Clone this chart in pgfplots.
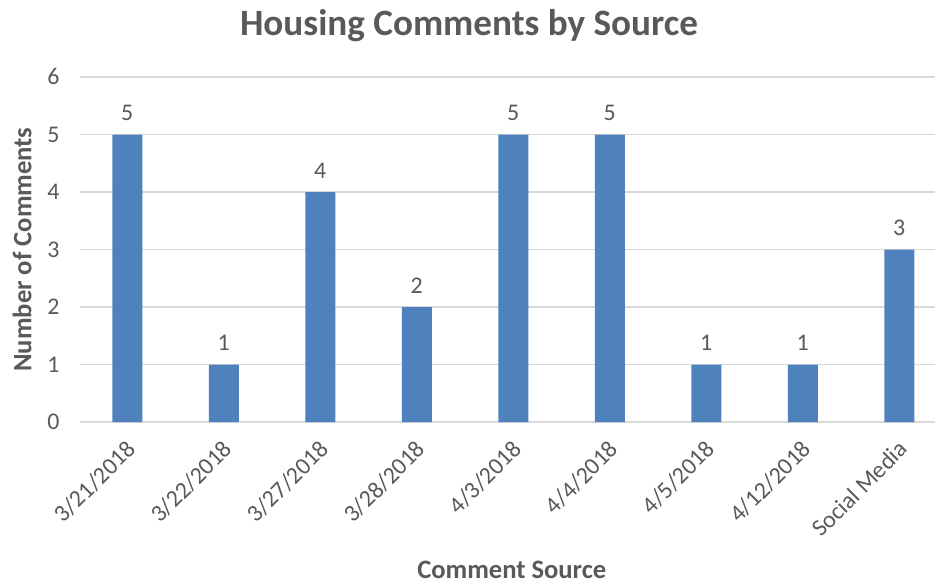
\documentclass[border=0pt]{standalone}
\usepackage{pgfplots}
\pgfplotsset{compat=1.18}
\usepackage{fontspec}
\setmainfont{Carlito}
\definecolor{barblue}{HTML}{4F81BD}
\definecolor{txtgray}{HTML}{595959}
\definecolor{gridgray}{HTML}{D9D9D9}
\begin{document}
\begin{tikzpicture}
\useasboundingbox (-80bp,-162bp) rectangle (858bp,422bp);
\begin{axis}[
  scale only axis,
  width=855bp, height=345bp,
  at={(0,0)}, anchor=south west,
  ybar, bar width=30bp,
  xmin=-0.49, xmax=8.37,
  ymin=0, ymax=6,
  ytick={0,1,...,6},
  xtick=data,
  xticklabels={3/21/2018,3/22/2018,3/27/2018,3/28/2018,4/3/2018,4/4/2018,4/5/2018,4/12/2018,Social Media},
  x tick label style={rotate=45, anchor=north east, font=\fontsize{24}{28}\selectfont, text=txtgray, xshift=-10bp, yshift=-7bp},
  y tick label style={font=\fontsize{24}{28}\selectfont, text=txtgray, xshift=-17bp},
  /pgf/number format/assume math mode=true,
  major tick length=0pt,
  axis line style={draw=none},
  axis x line*=bottom,
  x axis line style={draw=gridgray, line width=1.2pt},
  ymajorgrids, grid style={gridgray, line width=1.2pt},
  title={\textbf{Housing Comments by Source}},
  title style={font=\fontsize{37.3}{42}\selectfont, text=txtgray, at={(axis description cs:0.455,1.133)}, anchor=center},
  xlabel={\textbf{Comment Source}},
  xlabel style={font=\fontsize{26.7}{30}\selectfont, text=txtgray, at={(axis description cs:0.505,-0.429)}, anchor=center},
  ylabel={\textbf{Number of Comments}},
  ylabel style={font=\fontsize{26.7}{30}\selectfont, text=txtgray, at={(axis description cs:-0.0678,0.5)}, anchor=center},
  nodes near coords,
  every node near coord/.append style={font=\fontsize{24}{28}\selectfont, text=txtgray, yshift=10bp},
]
\addplot[fill=barblue, draw=none] coordinates {(0,5) (1,1) (2,4) (3,2) (4,5) (5,5) (6,1) (7,1) (8,3)};
\end{axis}
\end{tikzpicture}
\end{document}
